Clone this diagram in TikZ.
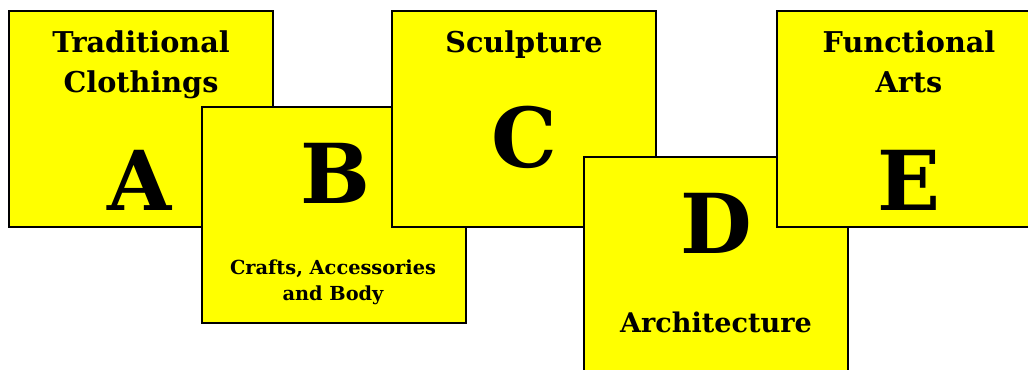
\documentclass[tikz,border=0pt]{standalone}
\usepackage{fontspec}
\setmainfont{DejaVu Serif}
\usepackage{xcolor}
\usepackage{tikz}
\usetikzlibrary{shadows}
\definecolor{panelYellow}{HTML}{FFFF00}
\definecolor{panelShade}{HTML}{BDBDBD}
\tikzset{
  panel/.style={rectangle, draw=black, fill=panelYellow, line width=1.5pt, minimum width=198pt, minimum height=162pt, inner sep=0pt,
    drop shadow={shadow xshift=0.4pt, shadow yshift=-1.1pt, fill=panelShade, opacity=1}},
  paneltitle/.style={font=\fontsize{21.5}{30}\selectfont\bfseries, align=center, anchor=base, inner sep=0pt},
  panelnote/.style={font=\fontsize{14.5}{18.8}\selectfont\bfseries, align=center, anchor=base, inner sep=0pt},
  bigletter/.style={font=\fontsize{62}{62}\selectfont\bfseries, anchor=base, inner sep=0pt},
}
\begin{document}
\begin{tikzpicture}[x=0.75pt,y=-0.75pt]
  \useasboundingbox (0,0) rectangle (1028,369);
  \clip (0,0) rectangle (1028,369);

  % Panel A
  \node[panel] (panA) at (140.5,119) {};
  \node[paneltitle] (titA) at (141,92) {Traditional\\Clothings};
  \node[bigletter] (letA) at (140,210) {A};

  % Panel B
  \node[panel] (panB) at (334,215) {};
  \node[bigletter] (letB) at (335,203) {B};
  \node[panelnote] (noteB) at (333,300) {Crafts, Accessories\\and Body};

  % Panel C
  \node[panel] (panC) at (524,119) {};
  \node[paneltitle] (titC) at (524,52) {Sculpture};
  \node[bigletter] (letC) at (524.5,167) {C};

  % Panel D
  \node[panel] (panD) at (716,265) {};
  \node[bigletter] (letD) at (716,253) {D};
  \node[paneltitle, font=\fontsize{20.3}{28}\selectfont\bfseries] (titD) at (716,332) {Architecture};

  % Panel E
  \node[panel] (panE) at (908.5,119) {};
  \node[paneltitle] (titE) at (909,92) {Functional\\Arts};
  \node[bigletter] (letE) at (909,210) {E};
\end{tikzpicture}
\end{document}
